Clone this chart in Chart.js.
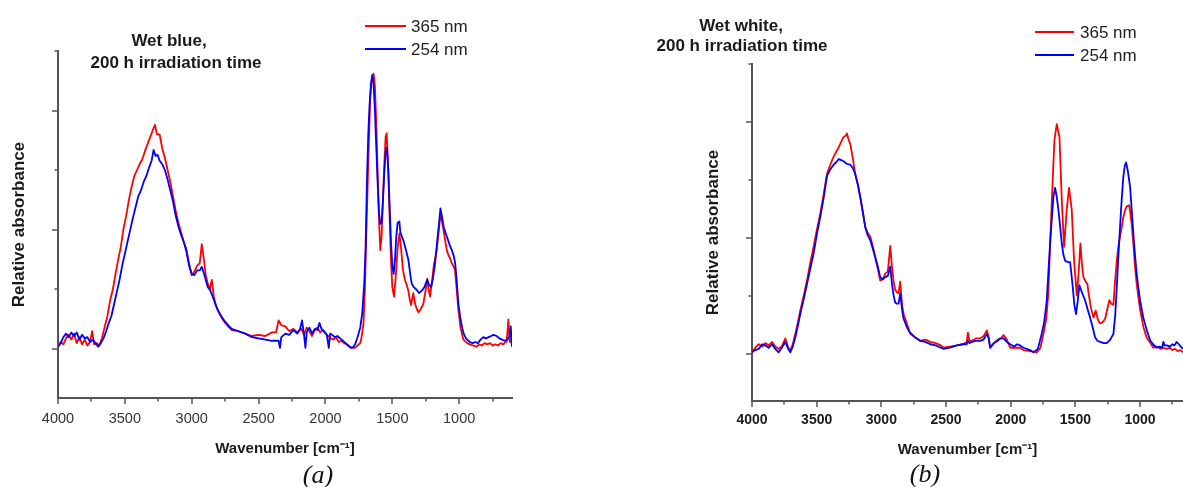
<!DOCTYPE html>
<html><head><meta charset="utf-8">
<script src="https://cdn.jsdelivr.net/npm/chart.js@4.4.1/dist/chart.umd.min.js"></script>
<style>
html,body{margin:0;padding:0;background:#fff;}
body{width:1183px;height:487px;overflow:hidden;position:relative;font-family:'Liberation Sans',Arial,sans-serif;}
canvas{position:absolute;top:0;}
.t{position:absolute;white-space:nowrap;line-height:1;color:#1a1a1a;}
.ttl{font-weight:bold;font-size:17px;transform:translateX(-50%);}
.lg{font-size:17px;color:#222;}
.ln{position:absolute;height:2px;}
.cap{font-family:'Liberation Serif','Times New Roman',serif;font-style:italic;font-size:26px;transform:translateX(-50%);color:#111;}
</style></head><body>
<canvas id="cA" width="530" height="487" style="left:0px"></canvas>
<canvas id="cB" width="493" height="487" style="left:690px"></canvas>

<div class="t ttl" style="left:169px;top:32px">Wet blue,</div>
<div class="t ttl" style="left:176px;top:54px">200 h irradiation time</div>
<div class="ln" style="left:365px;width:41px;top:25px;background:rgb(255,0,0)"></div>
<div class="ln" style="left:365px;width:41px;top:48px;background:rgb(0,0,255)"></div>
<div class="t lg" style="left:411px;top:18px">365 nm</div>
<div class="t lg" style="left:411px;top:41px">254 nm</div>
<div class="t cap" style="left:318px;top:462px">(a)</div>

<div class="t ttl" style="left:741px;top:17px">Wet white,</div>
<div class="t ttl" style="left:742px;top:37px">200 h irradiation time</div>
<div class="ln" style="left:1035px;width:39px;top:31px;background:rgb(255,0,0)"></div>
<div class="ln" style="left:1035px;width:39px;top:54px;background:rgb(0,0,255)"></div>
<div class="t lg" style="left:1080px;top:24px">365 nm</div>
<div class="t lg" style="left:1080px;top:47px">254 nm</div>
<div class="t cap" style="left:925px;top:461px">(b)</div>

<script>
// ---------- tick values ----------
const xMajorTicks = [4000, 3500, 3000, 2500, 2000, 1500, 1000];
const xMinorTicks = [3750, 3250, 2750, 2250, 1750, 1250, 750];
const yMajorTicks = [0, 1, 2];
const yMinorTicks = [0.5, 1.5, 2.5];
const seriesLabels = ['365 nm', '254 nm'];

// ---------- (a) Wet blue ----------
const blueWn365 = [4000,3980,3960,3940,3920,3900,3880,3860,3840,3820,3800,3780,3760,3745,3730,3710,3690,3670,3650,3630,3610,3590,3570,3550,3530,3510,3490,3470,3450,3430,3410,3390,3370,3350,3330,3310,3290,3275,3260,3240,3220,3200,3180,3160,3140,3120,3100,3080,3060,3040,3020,3000,2980,2960,2940,2925,2910,2895,2880,2865,2850,2835,2820,2800,2780,2750,2720,2700,2650,2600,2550,2500,2450,2400,2370,2350,2330,2300,2270,2240,2210,2180,2160,2140,2120,2100,2080,2060,2040,2020,2000,1980,1960,1940,1920,1900,1880,1860,1840,1820,1800,1780,1760,1740,1730,1716,1705,1691,1680,1666,1655,1640,1630,1620,1610,1600,1590,1580,1570,1560,1550,1542,1530,1520,1510,1500,1487,1475,1460,1447,1435,1420,1405,1390,1380,1370,1360,1343,1330,1315,1305,1290,1268,1250,1238,1228,1218,1205,1190,1168,1150,1138,1125,1110,1093,1081,1068,1055,1040,1031,1020,1006,990,969,940,920,894,870,850,830,810,790,769,750,730,710,690,670,655,645,632,622,612,605];
const blueAbs365 = [0.03,0.06,0.04,0.09,0.12,0.08,0.13,0.05,0.10,0.04,0.08,0.03,0.06,0.15,0.04,0.05,0.03,0.10,0.19,0.28,0.41,0.50,0.63,0.75,0.86,1.01,1.12,1.25,1.36,1.45,1.50,1.55,1.59,1.66,1.72,1.78,1.84,1.88,1.80,1.80,1.68,1.60,1.50,1.40,1.28,1.16,1.06,0.98,0.90,0.84,0.72,0.62,0.65,0.70,0.72,0.88,0.76,0.62,0.55,0.50,0.58,0.44,0.37,0.31,0.27,0.22,0.18,0.16,0.15,0.13,0.11,0.12,0.11,0.14,0.14,0.24,0.20,0.19,0.15,0.17,0.14,0.17,0.12,0.18,0.15,0.11,0.16,0.18,0.14,0.16,0.13,0.11,0.09,0.08,0.10,0.06,0.07,0.05,0.04,0.02,0.01,0.01,0.03,0.05,0.10,0.21,0.50,1.11,1.55,2.09,2.25,2.31,2.20,1.90,1.50,1.10,0.83,0.95,1.25,1.55,1.78,1.81,1.50,1.10,0.75,0.52,0.44,0.60,0.85,0.97,0.85,0.66,0.58,0.53,0.49,0.42,0.37,0.47,0.38,0.33,0.31,0.33,0.38,0.50,0.59,0.50,0.44,0.55,0.70,0.83,1.02,1.14,1.05,0.95,0.83,0.79,0.76,0.72,0.69,0.66,0.52,0.33,0.18,0.08,0.05,0.04,0.03,0.02,0.04,0.03,0.05,0.04,0.05,0.03,0.04,0.03,0.05,0.04,0.06,0.06,0.25,0.06,0.08,0.06];

const blueWn254 = [4000,3980,3960,3940,3920,3900,3880,3860,3840,3820,3800,3780,3760,3740,3720,3700,3680,3660,3640,3620,3600,3580,3560,3540,3520,3500,3480,3460,3440,3420,3400,3380,3360,3340,3320,3300,3285,3270,3255,3240,3220,3200,3180,3160,3140,3120,3100,3080,3060,3040,3020,3000,2980,2960,2940,2925,2910,2895,2880,2865,2850,2830,2810,2790,2770,2750,2720,2700,2650,2600,2550,2500,2450,2400,2370,2350,2340,2330,2300,2270,2240,2210,2190,2175,2160,2150,2140,2120,2100,2080,2060,2045,2030,2010,1990,1975,1965,1950,1930,1910,1890,1870,1850,1830,1810,1790,1775,1760,1740,1725,1710,1700,1690,1680,1670,1660,1650,1640,1630,1620,1610,1600,1590,1580,1570,1560,1550,1540,1530,1520,1510,1500,1490,1480,1470,1460,1447,1440,1430,1417,1400,1380,1365,1355,1340,1320,1300,1280,1260,1240,1225,1210,1195,1180,1165,1150,1140,1130,1115,1100,1085,1070,1055,1040,1030,1020,1006,990,970,950,920,900,880,860,840,820,800,780,760,744,720,700,680,660,640,625,614,608,605];
const blueAbs254 = [0.02,0.05,0.10,0.13,0.10,0.14,0.11,0.14,0.08,0.12,0.09,0.10,0.06,0.08,0.05,0.02,0.05,0.09,0.15,0.22,0.28,0.38,0.48,0.58,0.70,0.80,0.90,1.00,1.10,1.19,1.28,1.33,1.40,1.45,1.52,1.58,1.67,1.62,1.63,1.58,1.55,1.50,1.42,1.33,1.24,1.12,1.03,0.96,0.90,0.82,0.70,0.63,0.62,0.66,0.66,0.69,0.64,0.58,0.52,0.50,0.46,0.40,0.34,0.30,0.26,0.23,0.19,0.17,0.15,0.13,0.10,0.09,0.08,0.07,0.07,0.07,0.01,0.10,0.13,0.12,0.16,0.13,0.17,0.24,0.12,0.01,0.14,0.18,0.13,0.17,0.16,0.22,0.17,0.15,0.12,0.01,0.13,0.12,0.10,0.11,0.09,0.07,0.05,0.03,0.01,0.02,0.05,0.10,0.18,0.30,0.55,0.85,1.40,1.80,2.05,2.22,2.30,2.22,2.00,1.70,1.40,1.15,1.05,1.06,1.25,1.48,1.65,1.69,1.50,1.20,0.90,0.70,0.63,0.75,0.95,1.06,1.07,0.98,0.95,0.91,0.84,0.75,0.62,0.55,0.52,0.50,0.47,0.49,0.52,0.58,0.54,0.52,0.60,0.72,0.90,1.06,1.18,1.12,1.02,0.97,0.92,0.87,0.83,0.78,0.72,0.60,0.38,0.25,0.14,0.09,0.06,0.05,0.06,0.05,0.08,0.10,0.09,0.10,0.11,0.12,0.11,0.09,0.08,0.07,0.08,0.10,0.19,0.05,0.02];

// ---------- (b) Wet white ----------
const whiteWn365 = [4000,3975,3948,3920,3897,3870,3845,3820,3794,3770,3742,3720,3704,3685,3665,3645,3627,3600,3575,3550,3524,3500,3472,3445,3421,3395,3369,3350,3330,3310,3292,3275,3266,3252,3240,3220,3202,3180,3163,3140,3124,3105,3086,3065,3047,3025,3009,2990,2970,2950,2931,2918,2905,2893,2880,2867,2854,2840,2828,2800,2777,2740,2700,2660,2622,2580,2540,2519,2470,2416,2370,2340,2331,2320,2300,2270,2236,2210,2184,2170,2159,2130,2100,2075,2056,2030,2004,1960,1930,1901,1850,1798,1770,1747,1725,1709,1695,1682,1662,1644,1623,1605,1587,1567,1549,1528,1510,1489,1475,1461,1450,1438,1420,1407,1395,1381,1360,1343,1325,1309,1290,1270,1250,1237,1222,1206,1195,1180,1168,1155,1140,1129,1115,1103,1083,1065,1052,1039,1026,1013,1000,974,950,920,897,870,840,820,794,770,750,730,710,690,668];
const whiteAbs365 = [0.01,0.05,0.08,0.06,0.09,0.07,0.10,0.06,0.04,0.06,0.13,0.05,0.03,0.08,0.17,0.27,0.37,0.50,0.63,0.78,0.92,1.06,1.21,1.38,1.55,1.63,1.70,1.74,1.78,1.83,1.87,1.88,1.90,1.84,1.81,1.68,1.55,1.45,1.35,1.20,1.09,1.04,1.01,0.92,0.83,0.72,0.63,0.64,0.69,0.71,0.93,0.75,0.62,0.55,0.53,0.52,0.62,0.42,0.34,0.25,0.17,0.14,0.11,0.12,0.10,0.09,0.07,0.05,0.06,0.07,0.08,0.10,0.18,0.11,0.11,0.13,0.13,0.15,0.20,0.14,0.05,0.09,0.12,0.13,0.16,0.12,0.05,0.05,0.05,0.03,0.02,0.01,0.05,0.17,0.30,0.52,0.95,1.32,1.84,1.98,1.87,1.32,0.92,1.24,1.43,1.24,0.80,0.50,0.70,0.95,0.78,0.66,0.62,0.60,0.50,0.40,0.31,0.37,0.29,0.26,0.27,0.30,0.40,0.46,0.43,0.42,0.60,0.80,0.92,1.01,1.10,1.18,1.24,1.27,1.28,1.12,0.95,0.75,0.60,0.49,0.38,0.23,0.14,0.09,0.05,0.06,0.04,0.05,0.04,0.05,0.03,0.04,0.02,0.03,0.01];

const whiteWn254 = [4000,3975,3948,3920,3897,3870,3845,3820,3794,3770,3742,3720,3704,3685,3665,3645,3627,3600,3575,3550,3524,3500,3472,3445,3421,3395,3369,3350,3330,3310,3292,3270,3240,3220,3202,3180,3163,3140,3124,3105,3086,3065,3047,3025,3009,2990,2970,2950,2931,2918,2905,2893,2880,2867,2854,2840,2828,2800,2777,2740,2700,2660,2622,2580,2540,2519,2470,2416,2370,2340,2331,2320,2300,2270,2236,2210,2184,2170,2159,2130,2100,2082,2056,2030,2004,1975,1950,1927,1901,1850,1825,1790,1760,1740,1721,1705,1690,1670,1657,1645,1631,1618,1605,1592,1579,1560,1541,1530,1520,1508,1495,1482,1469,1450,1425,1405,1386,1365,1348,1330,1309,1280,1258,1230,1206,1192,1180,1168,1155,1142,1129,1118,1108,1095,1077,1065,1052,1039,1026,1013,1000,975,948,920,900,871,850,830,820,810,794,770,750,735,717,700,685,668];
const whiteAbs254 = [0.01,0.03,0.04,0.08,0.07,0.05,0.08,0.04,0.01,0.05,0.10,0.04,0.01,0.06,0.14,0.24,0.34,0.47,0.60,0.73,0.86,1.02,1.18,1.35,1.53,1.59,1.63,1.65,1.68,1.67,1.66,1.64,1.63,1.60,1.55,1.45,1.35,1.20,1.09,1.02,0.98,0.90,0.83,0.74,0.66,0.64,0.66,0.67,0.75,0.60,0.50,0.44,0.43,0.43,0.52,0.38,0.30,0.22,0.18,0.14,0.11,0.10,0.08,0.07,0.05,0.04,0.05,0.07,0.08,0.08,0.11,0.09,0.10,0.11,0.11,0.12,0.17,0.13,0.05,0.09,0.11,0.13,0.13,0.10,0.08,0.06,0.08,0.07,0.05,0.03,0.01,0.04,0.17,0.28,0.46,0.78,1.04,1.35,1.43,1.36,1.24,1.10,0.95,0.85,0.80,0.79,0.79,0.68,0.57,0.42,0.34,0.45,0.59,0.53,0.46,0.38,0.31,0.22,0.14,0.11,0.10,0.09,0.09,0.12,0.17,0.33,0.57,0.83,1.09,1.33,1.53,1.62,1.65,1.58,1.44,1.25,1.04,0.85,0.69,0.57,0.46,0.31,0.20,0.11,0.08,0.05,0.06,0.05,0.10,0.07,0.07,0.06,0.08,0.07,0.10,0.08,0.06,0.04];

// ---------- helpers ----------
const FONT = "'Liberation Sans', Arial, sans-serif";
function pts(xs, ys) { return xs.map((x, i) => ({ x: x, y: ys[i] })); }

const tickPlugin = {
  id: 'axisTicks',
  afterDraw(chart) {
    const o = chart.config.options.plugins.axisTicks;
    const { ctx, chartArea } = chart;
    const xs = chart.scales.x, ys = chart.scales.y;
    ctx.save();
    ctx.strokeStyle = o.color;
    ctx.lineWidth = o.width;
    ctx.beginPath();
    const b = chartArea.bottom, l = chartArea.left;
    xMajorTicks.forEach(v => { const p = Math.round(xs.getPixelForValue(v)); ctx.moveTo(p, b); ctx.lineTo(p, b + o.major); });
    xMinorTicks.forEach(v => { if (v >= xs.min) { const p = Math.round(xs.getPixelForValue(v)); ctx.moveTo(p, b); ctx.lineTo(p, b + o.minor); } });
    yMajorTicks.forEach(v => { const p = Math.round(ys.getPixelForValue(v)); ctx.moveTo(l, p); ctx.lineTo(l - o.major, p); });
    yMinorTicks.forEach(v => { const p = Math.round(ys.getPixelForValue(v)); ctx.moveTo(l, p); ctx.lineTo(l - o.minor, p); });
    ctx.stroke();
    ctx.restore();
  }
};

function makeChart(id, c) {
  return new Chart(document.getElementById(id), {
    type: 'scatter',
    data: {
      datasets: [
        { label: seriesLabels[0], data: pts(c.wn365, c.abs365), borderColor: 'rgb(255,0,0)', order: 1 },
        { label: seriesLabels[1], data: pts(c.wn254, c.abs254), borderColor: 'rgb(0,0,255)', order: 0 }
      ]
    },
    options: {
      responsive: false,
      animation: false,
      devicePixelRatio: 1,
      showLine: true,
      elements: {
        point: { radius: 0, hoverRadius: 0 },
        line: { borderWidth: 1.8, tension: 0, borderJoinStyle: 'round' }
      },
      layout: { padding: c.padding },
      plugins: {
        legend: { display: false },
        tooltip: { enabled: false },
        axisTicks: { color: '#555', width: 1.5, major: 6, minor: 3.5 }
      },
      scales: {
        x: {
          type: 'linear', reverse: true, min: c.xMin, max: 4000,
          afterBuildTicks: s => { s.ticks = xMajorTicks.map(v => ({ value: v })); },
          afterFit: s => { s.height = c.xAxisH; },
          grid: { display: false, drawTicks: false },
          border: { display: true, color: '#555', width: 2 },
          ticks: { padding: c.xTickPad, color: c.tickColor, font: { family: FONT, size: c.tickSize, weight: c.tickWeight }, callback: v => String(v), maxRotation: 0, autoSkip: false },
          title: { display: true, text: 'Wavenumber [cm\u207B\u00B9]', color: '#1a1a1a', font: { family: FONT, size: 15, weight: 'bold' }, padding: { top: 0, bottom: 2 } }
        },
        y: {
          type: 'linear', min: -0.41, max: 2.5,
          afterBuildTicks: s => { s.ticks = yMajorTicks.map(v => ({ value: v })); },
          afterFit: s => { s.width = c.yAxisW; },
          grid: { display: false, drawTicks: false },
          border: { display: true, color: '#555', width: 2 },
          ticks: { display: false },
          title: { display: true, text: 'Relative absorbance', color: '#1a1a1a', font: { family: FONT, size: 17, weight: 'bold' }, padding: { top: c.yTitlePad, bottom: 0 } }
        }
      }
    },
    plugins: [tickPlugin]
  });
}

makeChart('cA', {
  wn365: blueWn365, abs365: blueAbs365, wn254: blueWn254, abs254: blueAbs254,
  xMin: 605, yAxisW: 58, xAxisH: 62, padding: { left: 0, top: 51, right: 18, bottom: 27 },
  xTickPad: 12, tickColor: '#333', tickSize: 14.5, tickWeight: 'normal', yTitlePad: 9
});
makeChart('cB', {
  wn365: whiteWn365, abs365: whiteAbs365, wn254: whiteWn254, abs254: whiteAbs254,
  xMin: 668, yAxisW: 62, xAxisH: 60, padding: { left: 0, top: 64, right: 0, bottom: 26 },
  xTickPad: 10.5, tickColor: '#1a1a1a', tickSize: 14, tickWeight: 'bold', yTitlePad: 12.8
});
</script>
</body></html>
